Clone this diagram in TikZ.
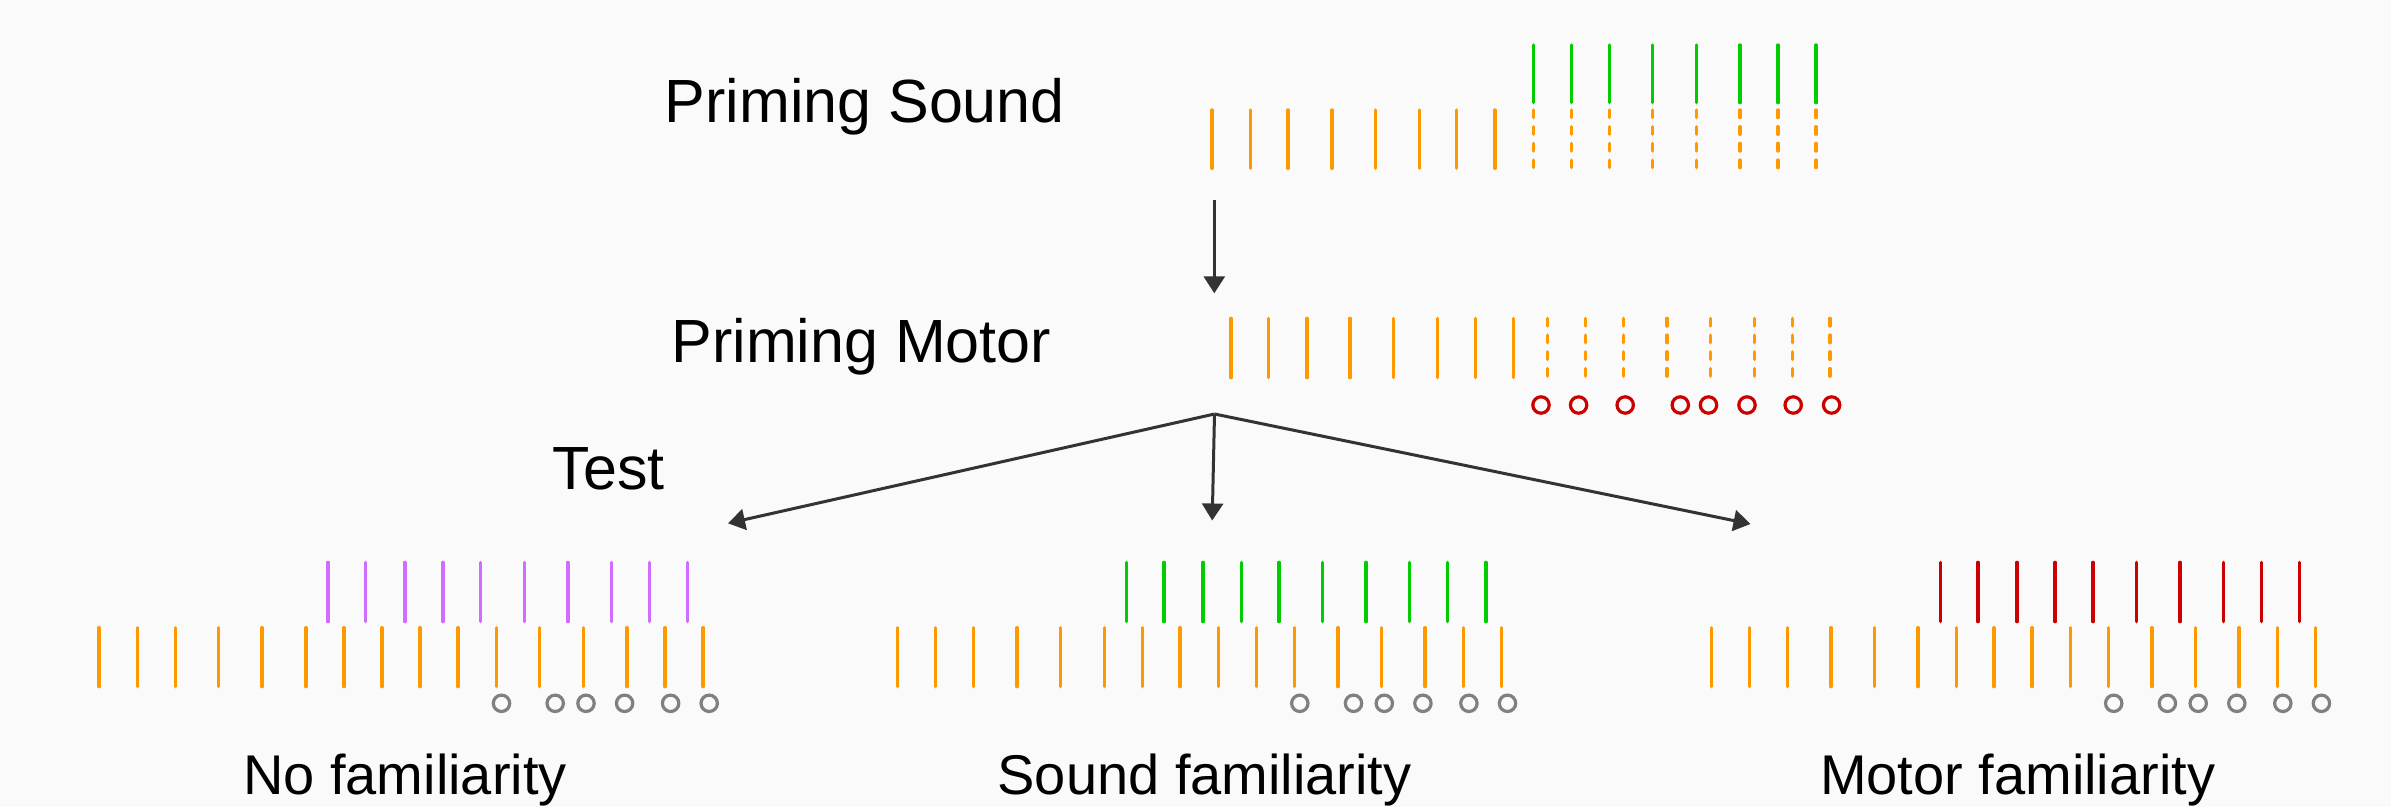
\documentclass[tikz,border=0pt]{standalone}
\usepackage{fontspec}
\setmainfont{Liberation Sans}
\usetikzlibrary{arrows.meta}
\definecolor{bg}{HTML}{FAFAFA}
\definecolor{ora}{HTML}{FF9900}
\definecolor{grn}{HTML}{00CC00}
\definecolor{pur}{HTML}{D26BFF}
\definecolor{rd}{HTML}{CC0000}
\definecolor{gry}{HTML}{808080}
\definecolor{ink}{HTML}{333333}
\begin{document}
\begin{tikzpicture}[x=1pt,y=-1pt,
  bar/.style={line width=3.4pt,line cap=round},
  dbar/.style={bar,dash pattern=on 7.6pt off 9.1pt},
  ring/.style={line width=3.2pt},
  arr/.style={draw=ink,line width=3pt,-{Triangle[length=17pt,width=21pt]}},
  lbl/.style={inner sep=0pt,anchor=base west,font=\fontsize{61}{70}\selectfont},
  slbl/.style={inner sep=0pt,anchor=base west,font=\fontsize{56}{64}\selectfont}]
\fill[bg] (0,0) rectangle (2391,807);
\useasboundingbox (0,0) rectangle (2391,807);

% labels
\node[lbl] (ps) at (664.5,122.7) {Priming Sound};
\node[lbl] (pm) at (671.3,362.7) {Priming Motor};
\node[lbl] (test) at (552.7,489) {Test};
\node[slbl] (nof) at (243,794) {No familiarity};
\node[slbl] (sof) at (997.4,794) {Sound familiarity};
\node[slbl] (mof) at (1819.8,794) {Motor familiarity};

% priming sound
\foreach \x in {1212.1,1250.2,1288.0,1331.8,1375.6,1419.4,1456.7,1494.8}
  \draw[bar,ora] (\x,110) -- (\x,168.3);
\foreach \x in {1533.4,1571.6,1609.3,1652.7,1696.5,1739.8,1778.0,1816.1}{
  \draw[dbar,ora] (\x,110) -- (\x,167.6);
  \draw[bar,grn] (\x,45) -- (\x,102.6);
}

% priming motor
\foreach \x in {1230.8,1268.4,1306.8,1350,1393.6,1437.2,1475.2,1513.2}
  \draw[bar,ora] (\x,318.4) -- (\x,377.6);
\foreach \x in {1547.4,1585.5,1623.5,1667.1,1710.7,1754.3,1792.3,1829.9}
  \draw[dbar,ora] (\x,318.4) -- (\x,376.6);
\foreach \x in {1541,1578.6,1625.2,1680.3,1708.5,1747,1793.2,1831.6}
  \draw[ring,rd] (\x,405) circle[radius=8.2pt];

% test groups
\foreach \dx/\col in {0/pur,798.3/grn,1612.2/rd}{
  \foreach \x in {99,137.2,175.4,218.7,262.1,305.9,344,381.8,419.9,458.1,496.3,539.6,583.4,626.8,665,703.1}
    \draw[bar,ora] ({\x+\dx},627.7) -- ({\x+\dx},686.6);
  \foreach \x in {328,365.7,404.8,442.9,480.6,524.4,567.8,611.2,649.3,687.5}
    \draw[bar,draw=\col] ({\x+\dx},562.4) -- ({\x+\dx},621.6);
  \foreach \x in {501.5,555.2,586,624.6,670.6,709.2}
    \draw[ring,gry] ({\x+\dx},703.3) circle[radius=8.2pt];
}

% arrows
\coordinate (s0) at (1214.3,200);
\coordinate (s1) at (1214.3,293.3);
\coordinate (br) at (1214.5,414);
\coordinate (tl) at (728,523.3);
\coordinate (tm) at (1212.2,520.5);
\coordinate (tr) at (1750.5,524);
\draw[arr] (s0) -- (s1);
\draw[arr] (br) -- (tl);
\draw[arr] (br) -- (tm);
\draw[arr] (br) -- (tr);
\end{tikzpicture}
\end{document}
